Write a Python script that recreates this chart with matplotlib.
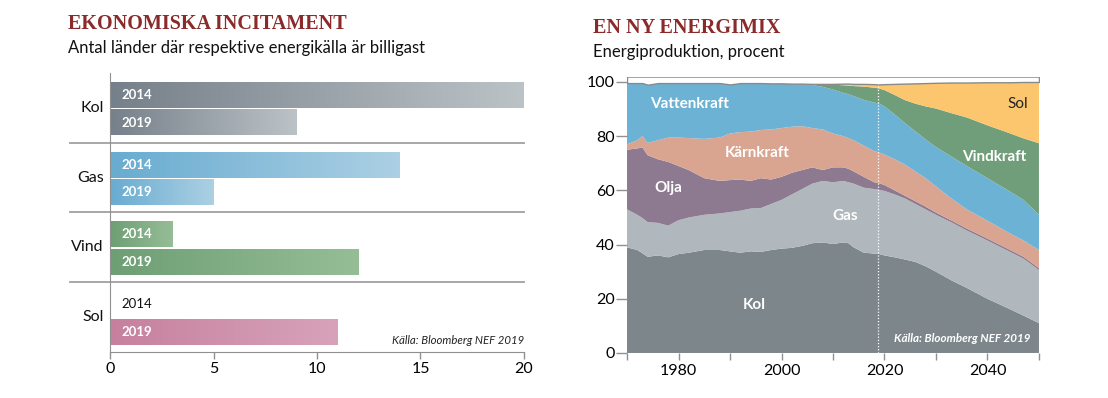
import numpy as np
import matplotlib
matplotlib.use("Agg")
import matplotlib.pyplot as plt
from matplotlib.colors import LinearSegmentedColormap

plt.rcParams['font.family'] = ['Lato', 'DejaVu Sans']

# ---- left chart data: number of countries where source is cheapest
sources = ["Kol", "Gas", "Vind", "Sol"]
count_2014 = [20, 14, 3, 0]
count_2019 = [9, 5, 12, 11]
bar_colors = {
    "Kol": ("#76808a", "#bcc3c7"),
    "Gas": ("#68acd0", "#acd0e4"),
    "Vind": ("#6e9e74", "#96be96"),
    "Sol": ("#c6809e", "#d7a3ba"),
}

# ---- right chart data: share of electricity production, percent
years = [1970, 1972, 1973, 1974, 1976, 1978, 1980, 1982, 1985, 1988, 1990,
         1992, 1994, 1996, 1998, 2000, 2002, 2004, 2006, 2008, 2010, 2012,
         2013, 2014, 2016, 2018, 2019, 2020, 2022, 2024, 2026, 2028, 2030,
         2033, 2036, 2040, 2044, 2047, 2050]
kol = [39.0, 38.0, 36.8, 35.5, 36.0, 35.3, 36.5, 37.0, 38.0, 38.0, 37.5,
       37.0, 37.5, 37.3, 38.0, 38.5, 38.8, 39.5, 40.5, 40.8, 40.2, 40.8,
       40.5, 39.0, 37.0, 36.7, 36.5, 36.0, 35.3, 34.5, 33.6, 32.0, 30.0,
       26.8, 24.0, 20.0, 16.5, 13.8, 11.0]
gas = [14.0, 13.0, 13.0, 12.8, 12.0, 11.7, 12.5, 13.0, 13.0, 13.5, 14.5,
       15.5, 15.8, 16.2, 17.0, 18.0, 19.7, 21.0, 22.0, 22.7, 22.8, 22.7,
       22.5, 23.5, 24.0, 23.8, 23.7, 23.8, 23.2, 22.5, 21.4, 21.0, 21.0,
       21.4, 21.2, 21.5, 21.2, 21.0, 19.6]
olja = [22.0, 24.5, 26.0, 24.7, 23.5, 23.5, 20.0, 17.5, 13.5, 12.0, 11.8,
        11.5, 10.2, 11.0, 9.0, 8.5, 8.0, 7.0, 6.0, 4.0, 5.5, 5.0,
        5.0, 4.5, 4.0, 2.5, 2.4, 2.2, 1.5, 1.0, 1.0, 1.0, 0.8,
        0.7, 0.7, 0.7, 0.7, 0.7, 0.7]
karnkraft = [2.0, 3.0, 4.2, 4.5, 7.0, 9.0, 10.5, 11.8, 14.5, 16.0, 17.2,
             17.5, 18.2, 17.8, 18.5, 18.0, 17.0, 16.2, 14.5, 15.0, 12.5, 11.5,
             11.3, 11.5, 11.5, 11.5, 11.4, 11.2, 11.5, 11.5, 11.0, 10.5, 9.7,
             8.1, 7.1, 6.6, 6.1, 6.0, 6.7]
vattenkraft = [22.6, 21.1, 19.6, 21.5, 21.1, 20.1, 20.1, 20.3, 20.6, 20.1, 18.1,
               18.1, 17.9, 17.3, 17.0, 16.5, 15.9, 15.6, 15.9, 15.7, 16.2, 16.0,
               16.2, 16.3, 16.9, 17.9, 18.0, 17.8, 16.5, 15.3, 14.8, 14.3, 14.5,
               15.5, 16.0, 15.7, 15.5, 15.0, 13.0]
vindkraft = [0, 0, 0, 0, 0, 0, 0, 0, 0, 0, 0,
             0, 0, 0, 0, 0, 0, 0.1, 0.4, 1.0, 1.8, 2.8,
             3.2, 3.7, 4.9, 5.5, 5.6, 6.0, 7.2, 8.5, 10.2, 12.2, 14.2,
             16.0, 17.9, 19.5, 21.3, 22.7, 26.4]
sol = [0, 0, 0, 0, 0, 0, 0, 0, 0, 0, 0,
       0, 0, 0, 0, 0, 0, 0, 0, 0.1, 0.3, 0.6,
       0.7, 0.8, 1.0, 1.3, 1.5, 2.2, 4.1, 6.1, 7.5, 8.6, 9.5,
       11.3, 12.9, 15.9, 18.6, 20.8, 22.6]
mix_colors = ["#7d878b", "#b0b8bd", "#8d7a91", "#d9a591", "#6cb2d4",
              "#719e7a", "#fbc66e"]
proj_start = 2018.7

fig = plt.figure(figsize=(11.08, 3.98), dpi=100)
title_color = "#8b2a2a"

# ================= left chart =================
ax1 = fig.add_axes([0.0993, 0.1156, 0.3736, 0.701])
ax1.set_xlim(0, 20)
ax1.set_ylim(0, 4)
bar_h = 0.37
for i, src in enumerate(sources):
    g = 3 - i
    c0, c1 = bar_colors[src]
    cmap = LinearSegmentedColormap.from_list(src, [c0, c1])
    grad = np.linspace(0, 1, 256).reshape(1, -1)
    for val, yc, yr in [(count_2014[i], g + 0.685, "2014"),
                        (count_2019[i], g + 0.29, "2019")]:
        if val > 0:
            ax1.imshow(grad, extent=[0, val, yc - bar_h / 2, yc + bar_h / 2],
                       aspect='auto', cmap=cmap, zorder=2)
            ax1.text(0.55, yc, yr, color="white", fontsize=9.5,
                     fontweight="bold", va="center", ha="left", zorder=4)
        else:
            ax1.text(0.55, yc, yr, color="#111111", fontsize=9.5,
                     va="center", ha="left", zorder=4)
    ax1.text(-0.3, g + 0.5, src, fontsize=11.5, ha="right", va="center",
             color="#111111")
    if g > 0:
        ax1.plot([-1.95, 20], [g, g], color="#a0a0a0", lw=1.3,
                 clip_on=False, zorder=1)

ax1.set_xticks([0, 5, 10, 15, 20])
ax1.set_yticks([])
ax1.tick_params(axis='x', direction='out', length=5, width=1,
                color="#909090", labelsize=11.5, pad=2)
for s in ["top", "right"]:
    ax1.spines[s].set_visible(False)
ax1.spines["left"].set_color("#909090")
ax1.spines["bottom"].set_color("#909090")
ax1.text(20, 0.17, "Källa: Bloomberg NEF 2019", fontsize=8.2,
         style="italic", ha="right", va="center", color="#222222")

fig.text(68 / 1108, 1 - 24 / 398, "EKONOMISKA INCITAMENT",
         family="Liberation Serif", fontweight="bold", fontsize=14.5,
         color=title_color, va="center", ha="left")
fig.text(68 / 1108, 1 - 48 / 398,
         "Antal länder där respektive energikälla är billigast",
         fontsize=12, color="#111111", va="center", ha="left")

# ================= right chart =================
ax2 = fig.add_axes([0.5659, 0.1131, 0.3718, 0.6945])
ax2.stackplot(years, kol, gas, olja, karnkraft, vattenkraft, vindkraft, sol,
              colors=mix_colors, lw=0)
total = np.sum([kol, gas, olja, karnkraft, vattenkraft, vindkraft, sol],
               axis=0)
ax2.fill_between(years, total, 102, facecolor="white", edgecolor="#8a8a8a",
                 lw=1.0)
ax2.axvline(proj_start, ymax=total[26] / 102, color="white", lw=0.9,
            ls=(0, (1, 1.5)))
ax2.set_xlim(1970, 2050)
ax2.set_ylim(0, 102)
for s in ax2.spines.values():
    s.set_visible(False)
ax2.set_yticks([0, 20, 40, 60, 80, 100])
ax2.set_xticks([1980, 2000, 2020, 2040])
ax2.set_xticks(range(1970, 2051, 10), minor=True)
ax2.tick_params(axis='y', length=8, width=1, color="#909090",
                labelsize=11.5, pad=1)
ax2.tick_params(axis='x', which='both', length=5, width=1, color="#909090",
                labelsize=11.5, pad=3)

lab = dict(fontsize=11, fontweight="bold", ha="center", va="center",
           color="white")
ax2.text(1982.2, 91.9, "Vattenkraft", **lab)
ax2.text(1995.2, 73.8, "Kärnkraft", **lab)
ax2.text(1978.0, 60.9, "Olja", **lab)
ax2.text(2012.3, 50.5, "Gas", **lab)
ax2.text(1994.7, 17.7, "Kol", **lab)
ax2.text(2041.3, 72.3, "Vindkraft", **lab)
ax2.text(2045.9, 91.9, "Sol", fontsize=11, ha="center", va="center",
         color="#222222")
ax2.text(2048.3, 5.2, "Källa: Bloomberg NEF 2019", fontsize=8.4,
         style="italic", fontweight="bold", ha="right", va="center",
         color="white")

fig.text(593 / 1108, 1 - 28 / 398, "EN NY ENERGIMIX",
         family="Liberation Serif", fontweight="bold", fontsize=14.5,
         color=title_color, va="center", ha="left")
fig.text(593 / 1108, 1 - 52 / 398, "Energiproduktion, procent",
         fontsize=12, color="#111111", va="center", ha="left")

fig.savefig("out.png", dpi=100, facecolor="white")
